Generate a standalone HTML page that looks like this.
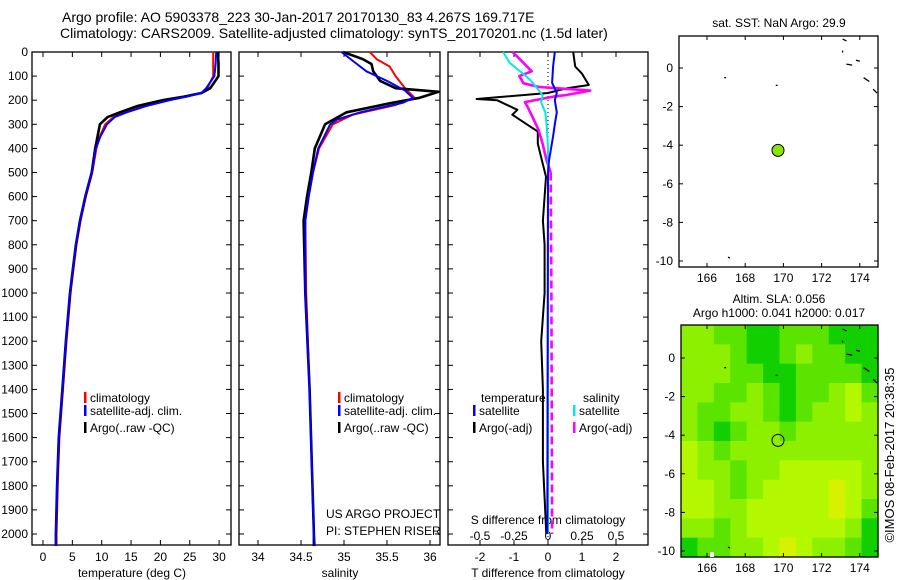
<!DOCTYPE html>
<html><head><meta charset="utf-8"><style>
html,body{margin:0;padding:0;background:#fff;}
svg{display:block;font-family:"Liberation Sans",sans-serif;}
text{font-size:12px;fill:#000;}
</style></head><body>
<svg id="chart" width="900" height="580" viewBox="0 0 900 580" xmlns="http://www.w3.org/2000/svg">
<text x="62" y="22" style="font-size:14px">Argo profile: AO 5903378_223 30-Jan-2017 20170130_83 4.267S 169.717E</text>
<text x="60" y="38" style="font-size:14px">Climatology: CARS2009. Satellite-adjusted climatology: synTS_20170201.nc (1.5d later)</text>
<g id="g"></g>
</svg>
<script>
// ---- data ----
const depthTemp = [0,50,100,150,170,185,200,225,250,270,300,350,400,500,600,700,800,900,1000,1200,1400,1600,1800,2000,2050];
const tempArgo = [29.8,29.9,29.9,28.5,27,24,20.4,16,13.1,11,9.7,9.3,8.9,8.3,7.2,6.3,5.6,5.1,4.6,3.9,3.3,2.7,2.4,2.2,2.2];
const tempSat = [29.5,29.4,29.2,27.8,27,24.5,21.6,17.5,14.3,12.2,10.9,9.8,9.0,8.3,7.2,6.3,5.6,5.1,4.6,3.9,3.3,2.7,2.4,2.2,2.2];
const tempClim = [29.0,29.0,29.0,28.0,27,24.3,21.2,17.0,14.0,12.0,10.6,9.7,9.1,8.4,7.3,6.4,5.7,5.2,4.7,4.0,3.4,2.8,2.5,2.3,2.3];

const salDepthArgo = [0,30,50,80,120,150,165,190,210,250,300,400,500,600,700,1000,1400,2000,2050];
const salArgo = [34.99,35.22,35.32,35.34,35.42,35.6,36.1,35.88,35.57,35.03,34.78,34.66,34.62,34.57,34.53,34.55,34.6,34.65,34.65];
const salDepthSat = [0,50,80,120,160,190,210,250,280,300,400,500,600,700,1000,1400,2000,2050];
const salSat = [34.97,35.15,35.26,35.5,35.71,35.8,35.69,35.19,34.92,34.84,34.7,34.64,34.59,34.55,34.55,34.6,34.65,34.66];
const salDepthClim = [0,30,60,100,150,190,220,260,300,400,500,600,700,1000,1400,2000,2050];
const salClim = [35.3,35.38,35.53,35.6,35.71,35.82,35.6,35.1,34.87,34.71,34.64,34.59,34.55,34.56,34.6,34.65,34.66];

const dDepthTArgo = [0,60,90,137,150,170,195,200,240,260,295,330,380,450,518,700,800,1000,1200,1400,1700,2000];
const dTArgo = [0.74,0.8,1.0,1.2,0.56,0,-2.1,-1.5,-0.9,-1.05,-0.68,-0.3,-0.3,-0.18,-0.06,-0.15,-0.1,-0.1,-0.2,-0.15,-0.15,-0.05];
const dDepthTSat = [0,60,128,170,200,250,300,350,450,500,2000];
const dTSat = [0.2,0.15,0.12,0.26,0.2,0.26,0.2,0.15,0.03,0,-0.02];
const dDepthSSat = [0,46,87,116,150,180,210,250,300,400,2000];
const dSSat = [-0.33,-0.28,-0.19,-0.13,-0.08,-0.04,-0.05,-0.02,-0.01,0,0];
const dDepthSArgo = [0,40,80,100,130,145,160,178,185,208,228,274,323,380,450,500,1000,2000];
const dSArgo = [-0.26,-0.19,-0.12,-0.21,-0.18,-0.07,0.31,0.14,0.04,-0.17,-0.15,-0.11,-0.07,-0.04,-0.01,0.02,0.025,0.03];

const depthTicks = [0,100,200,300,400,500,600,700,800,900,1000,1100,1200,1300,1400,1500,1600,1700,1800,1900,2000];
const tempTicks = [0,5,10,15,20,25,30];
const salTicks = [34,34.5,35,35.5,36];
const tdTicks = [-2,-1,0,1,2];
const sdTicks = [-0.5,-0.25,0,0.25,0.5];
const lonTicks = [166,168,170,172,174];
const latTicks = [0,-2,-4,-6,-8,-10];
const argoLon = 169.717, argoLat = -4.267;

// SLA heatmap levels (0 dark green .. 4 yellow), rows from north to south
const slaGrid = [
 [2,2,1,1,0,0,1,1,1,0,0,0],
 [2,2,2,1,0,0,1,2,1,1,0,0],
 [2,2,2,1,1,0,0,1,1,1,1,0],
 [2,2,1,1,2,1,0,1,1,2,3,1],
 [2,1,1,2,2,1,0,1,2,2,3,2],
 [2,1,0,1,2,2,1,2,2,2,2,2],
 [3,2,1,2,2,2,2,2,2,2,2,2],
 [3,2,2,1,2,2,3,3,3,3,3,2],
 [3,3,2,1,2,3,3,3,3,4,3,2],
 [3,3,2,2,3,3,3,3,3,4,3,1],
 [2,2,1,2,3,3,3,3,3,3,2,0],
 [0,1,1,2,2,3,4,3,2,2,1,0]
];
const slaColors = ["#12cf00","#5ae400","#8cf000","#b4f800","#d6f200"];

// ---- helpers ----
const NS="http://www.w3.org/2000/svg";
const G=document.getElementById('g');
function mk(tag,attrs,parent){const e=document.createElementNS(NS,tag);for(const k in attrs)e.setAttribute(k,attrs[k]);(parent||G).appendChild(e);return e;}
const yTop=52, yBot=545;
const yD = d => yTop + d*0.241;
const xT = v => 43 + v*5.87;
const xS = v => 258 + (v-34)*86;
const xTD = v => 548 + v*34;
const xSD = v => 548 + v*136;

function line(xs,ds,fx,color,w,name,dash){
  const pts=xs.map((v,i)=>fx(v).toFixed(1)+','+yD(ds[i]).toFixed(1)).join(' ');
  const p=mk('polyline',{points:pts,fill:'none',stroke:color,'stroke-width':w,'stroke-linejoin':'round'});
  if(dash)p.setAttribute('stroke-dasharray',dash);
  
  
  return p;
}
function txt(x,y,s,anchor,name,size){
  const t=mk('text',{x:x,y:y,'text-anchor':anchor||'start'});
  if(size)t.style.fontSize=size+'px';
  t.textContent=s;
  
  
  return t;
}
function box(x0,x1,y0,y1,name){
  const r=mk('rect',{x:x0,y:y0,width:x1-x0,height:y1-y0,fill:'none',stroke:'#000','stroke-width':1.3});
  
  
}
function depthTickMarks(x0,x1){
  depthTicks.forEach(d=>{const y=yD(d);mk('line',{x1:x0,y1:y,x2:x0+5,y2:y,stroke:'#000'});mk('line',{x1:x1-5,y1:y,x2:x1,y2:y,stroke:'#000'});});
}
function xTickMarks(ticks,fx){
  ticks.forEach(v=>{const x=fx(v);mk('line',{x1:x,y1:yBot,x2:x,y2:yBot-5,stroke:'#000'});mk('line',{x1:x,y1:yTop,x2:x,y2:yTop+5,stroke:'#000'});});
}

depthTicks.forEach(d=>txt(28,yD(d)+4,String(d),'end','depth-tick-label'));

// ---- panel 1: temperature ----
box(32,231,yTop,yBot,'temperature-panel');
depthTickMarks(32,231);xTickMarks(tempTicks,xT);
tempTicks.forEach(v=>txt(xT(v),561,String(v),'middle','temperature-tick-label'));
txt(132,577,'temperature (deg C)','middle','temperature-axis-title');
line(tempClim,depthTemp,xT,'#ff0000',2,'temp-climatology-line');
line(tempArgo,depthTemp,xT,'#000000',2.6,'temp-argo-line');
line(tempSat,depthTemp,xT,'#0000ff',2,'temp-satellite-line');
[['#ff0000','climatology',402],['#0000ff','satellite-adj. clim.',415],['#000000','Argo(..raw -QC)',432]].forEach(l=>{
  mk('rect',{x:84,y:l[2]-10,width:2.5,height:11,fill:l[0]});txt(90,l[2],l[1],'start','temp-legend-entry');
});

// ---- panel 2: salinity ----
box(239,440,yTop,yBot,'salinity-panel');
depthTickMarks(239,440);xTickMarks(salTicks,xS);
salTicks.forEach(v=>txt(xS(v),561,String(v),'middle','salinity-tick-label'));
txt(340,577,'salinity','middle','salinity-axis-title');
line(salClim,salDepthClim,xS,'#ff0000',2,'sal-climatology-line');
line(salArgo,salDepthArgo,xS,'#000000',2.6,'sal-argo-line');
line(salSat,salDepthSat,xS,'#0000ff',2,'sal-satellite-line');
[['#ff0000','climatology',402],['#0000ff','satellite-adj. clim.',415],['#000000','Argo(..raw -QC)',432]].forEach(l=>{
  mk('rect',{x:338,y:l[2]-10,width:2.5,height:11,fill:l[0]});txt(344,l[2],l[1],'start','sal-legend-entry');
});
txt(326,518,'US ARGO PROJECT','start','project-label');
txt(326,535,'PI: STEPHEN RISER','start','pi-label');

// ---- panel 3: differences ----
box(448,648,yTop,yBot,'difference-panel');
depthTickMarks(448,648);xTickMarks(tdTicks,xTD);
mk('line',{x1:548,y1:yTop,x2:548,y2:yBot,stroke:'#000','stroke-dasharray':'1,3'});
tdTicks.forEach(v=>txt(xTD(v),561,String(v),'middle','t-diff-tick-label'));
sdTicks.forEach(v=>txt(xSD(v),540,String(v),'middle','s-diff-tick-label'));
txt(548,524,'S difference from climatology','middle','s-diff-axis-title');
txt(548,577,'T difference from climatology','middle','t-diff-axis-title');
line(dTArgo,dDepthTArgo,xTD,'#000000',2,'t-diff-argo-line');
const sa1=dSArgo.slice(0,16), sd1=dDepthSArgo.slice(0,16), sa2=dSArgo.slice(15), sd2=dDepthSArgo.slice(15);
line(sa1,sd1,xSD,'#ff00ff',2.6,'s-diff-argo-line');
line(sa2,sd2,xSD,'#ff00ff',2.6,'s-diff-argo-deep-line','8,4');
line(dSSat,dDepthSSat,xSD,'#00e8e8',2,'s-diff-satellite-line');
line(dTSat,dDepthTSat,xTD,'#0000ff',2,'t-diff-satellite-line');
txt(481,402,'temperature','start','legend-temperature-heading');
txt(583,402,'salinity','start','legend-salinity-heading');
[['#0000ff','satellite',473,415],['#000000','Argo(-adj)',473,432],['#00e8e8','satellite',573,415],['#ff00ff','Argo(-adj)',573,432]].forEach(l=>{
  mk('rect',{x:l[2],y:l[3]-10,width:2.5,height:11,fill:l[0]});txt(l[2]+6,l[3],l[1],'start','diff-legend-entry');
});

// ---- maps ----
function mapAxes(x0,x1,y0,y1,lat0y,latScale,name){
  const lx = lon => 707 + (lon-166)*19.1;
  const ly = lat => lat0y - lat*latScale;
  box(x0,x1,y0,y1,name);
  lonTicks.forEach(v=>{const x=lx(v);mk('line',{x1:x,y1:y0,x2:x,y2:y0+4,stroke:'#000'});mk('line',{x1:x,y1:y1,x2:x,y2:y1-4,stroke:'#000'});txt(x,y1+15,String(v),'middle','lon-tick-label');});
  latTicks.forEach(v=>{const y=ly(v);mk('line',{x1:x0,y1:y,x2:x0+4,y2:y,stroke:'#000'});mk('line',{x1:x1-4,y1:y,x2:x1,y2:y,stroke:'#000'});txt(x0-6,y+4,String(v),'end','lat-tick-label');});
  [[173.1,1.5,173.3,1.4],[173.1,0.9,173.1,0.8],[173.3,0.2,173.6,0.15],[173.8,0.4,174,0.35],[174.2,-0.5,174.5,-0.7],[174.7,-1.1,174.9,-1.3],[166.9,-0.5,167,-0.5],[169.6,-0.9,169.7,-0.9],[167.1,-9.8,167.2,-9.85]].forEach(s=>{
    mk('line',{x1:lx(s[0]),y1:ly(s[1]),x2:lx(s[2]),y2:ly(s[3]),stroke:'#000','stroke-width':1.3});
  });
  return [lx,ly];
}
txt(779,27,'sat. SST: NaN Argo: 29.9','middle','sst-map-title');
const m1=mapAxes(679,878,36,267,68,19.3,'sst-map');
const c1=mk('circle',{cx:m1[0](argoLon),cy:m1[1](argoLat),r:6,fill:'#88e400',stroke:'#000','stroke-width':1});



const hx0=681,hx1=878,hy0=325,hy1=557;
const cw=(hx1-hx0)/12, ch=(hy1-hy0)/12;
slaGrid.forEach((row,r)=>row.forEach((v,c)=>{
  const cell=mk('rect',{x:(hx0+c*cw).toFixed(2),y:(hy0+r*ch).toFixed(2),width:(cw+0.6).toFixed(2),height:(ch+0.6).toFixed(2),fill:slaColors[v]});
  
  
}));
txt(779,303,'Altim. SLA: 0.056','middle','sla-map-title');
txt(779,317,'Argo h1000: 0.041 h2000: 0.017','middle','sla-map-subtitle');
const m2=mapAxes(681,878,325,557,358,19.3,'sla-map');
const c2=mk('circle',{cx:m2[0](argoLon),cy:m2[1](argoLat),r:6,fill:'none',stroke:'#000','stroke-width':1});


mk('rect',{x:710,y:552,width:4,height:5,fill:'#fff'});

const cr=txt(0,0,'©IMOS 08-Feb-2017 20:38:35','middle','imos-credit',13);
cr.setAttribute('transform','translate(894,455) rotate(-90)');
</script>
</body></html>
